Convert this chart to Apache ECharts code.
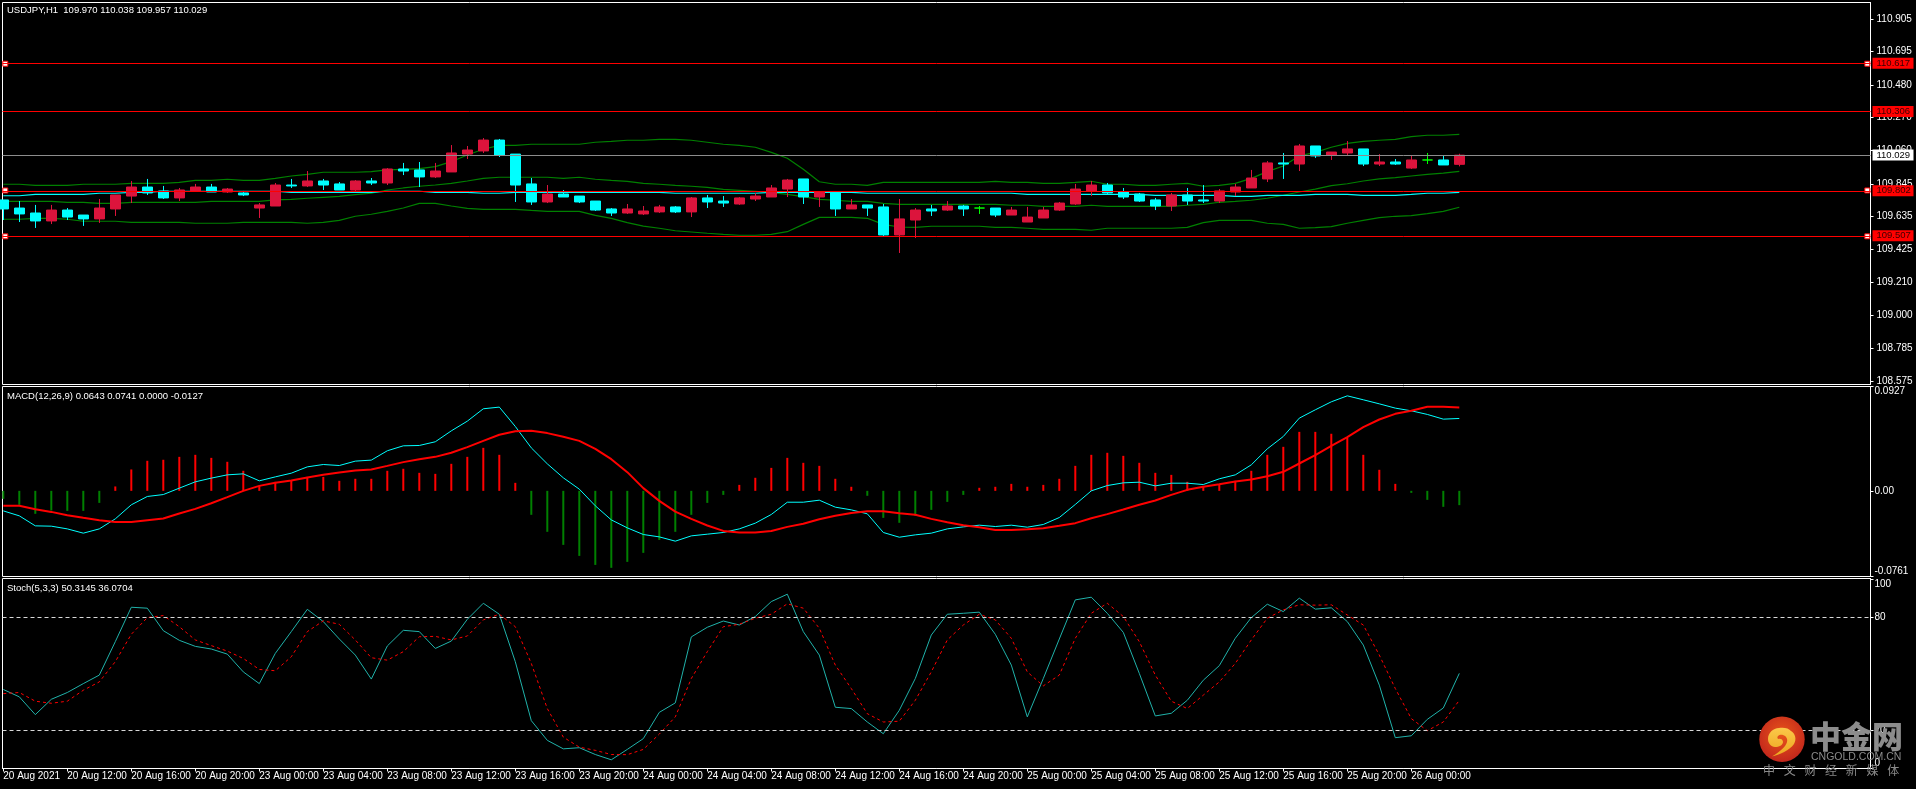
<!DOCTYPE html>
<html>
<head>
<meta charset="utf-8">
<title>USDJPY H1</title>
<style>html,body{margin:0;padding:0;background:#000;overflow:hidden}#chart{width:1916px;height:789px}</style>
<script src="https://cdn.jsdelivr.net/npm/echarts@6/dist/echarts.min.js"></script>
</head>
<body>
<div id="chart"></div>
<script>
// USDJPY hourly candles, one row of ten bars per line
const opens = [109.741,109.689,109.657,109.606,109.676,109.644,109.619,109.683,109.766,109.824,
109.799,109.754,109.799,109.824,109.792,109.786,109.689,109.702,109.837,109.831,
109.863,109.844,109.805,109.863,109.850,109.940,109.934,109.889,109.921,110.036,
110.056,110.126,110.036,109.844,109.728,109.779,109.766,109.734,109.683,109.657,
109.651,109.664,109.696,109.664,109.754,109.734,109.715,109.747,109.760,109.811,
109.876,109.760,109.792,109.683,109.709,109.696,109.516,109.612,109.683,109.676,
109.702,109.689,109.689,109.644,109.599,109.625,109.676,109.715,109.799,109.837,
109.792,109.779,109.741,109.702,109.773,109.741,109.734,109.792,109.818,109.876,
109.979,109.972,110.088,110.030,110.043,110.069,109.972,109.985,109.946,109.998,
109.998,109.970];
const closes = [109.683,109.651,109.606,109.676,109.631,109.619,109.689,109.773,109.824,109.786,
109.754,109.805,109.824,109.792,109.811,109.773,109.709,109.837,109.831,109.863,
109.837,109.805,109.863,109.850,109.940,109.927,109.889,109.927,110.043,110.062,
110.126,110.030,109.837,109.728,109.779,109.760,109.728,109.676,109.657,109.683,
109.670,109.696,109.664,109.754,109.728,109.721,109.754,109.766,109.818,109.869,
109.760,109.792,109.683,109.709,109.689,109.516,109.619,109.676,109.670,109.702,
109.683,109.689,109.644,109.676,109.631,109.676,109.721,109.811,109.837,109.786,
109.760,109.734,109.702,109.773,109.734,109.734,109.799,109.824,109.882,109.979,
109.972,110.088,110.024,110.049,110.069,109.972,109.985,109.972,109.998,109.998,
109.966,110.029];
const lows = [109.612,109.599,109.561,109.586,109.612,109.574,109.593,109.638,109.721,109.773,
109.747,109.734,109.799,109.792,109.786,109.766,109.625,109.702,109.818,109.824,
109.805,109.805,109.792,109.837,109.837,109.901,109.824,109.882,109.921,110.004,
110.043,110.017,109.728,109.709,109.721,109.760,109.721,109.670,109.638,109.651,
109.644,109.657,109.657,109.631,109.689,109.696,109.709,109.734,109.760,109.760,
109.715,109.696,109.638,109.683,109.638,109.503,109.400,109.496,109.638,109.670,
109.638,109.651,109.631,109.644,109.599,109.625,109.670,109.709,109.766,109.779,
109.747,109.728,109.676,109.670,109.709,109.721,109.721,109.766,109.818,109.856,
109.876,109.927,110.011,109.998,110.030,109.959,109.959,109.966,109.940,109.972,
109.966,109.957];
const highs = [109.741,109.734,109.709,109.709,109.689,109.644,109.747,109.773,109.863,109.876,
109.831,109.818,109.844,109.844,109.818,109.799,109.721,109.850,109.876,109.927,
109.876,109.856,109.869,109.882,109.946,109.979,109.985,109.979,110.094,110.088,
110.139,110.133,110.036,109.882,109.837,109.805,109.766,109.734,109.689,109.715,
109.702,109.709,109.702,109.760,109.773,109.766,109.760,109.786,109.837,109.876,
109.876,109.792,109.792,109.747,109.709,109.715,109.747,109.689,109.709,109.734,
109.709,109.702,109.689,109.696,109.696,109.696,109.728,109.844,109.863,109.850,
109.818,109.786,109.754,109.786,109.818,109.837,109.811,109.844,109.934,109.991,
110.043,110.101,110.088,110.049,110.120,110.069,110.036,110.004,110.024,110.043,
110.024,110.038];

// Bollinger bands and the slow moving average
const bbUpper = [109.842,109.842,109.835,109.835,109.835,109.842,109.842,109.842,109.848,109.848,
109.848,109.854,109.867,109.867,109.874,109.867,109.867,109.880,109.895,109.906,
109.919,109.919,109.919,109.923,109.934,109.938,109.942,109.955,109.987,110.030,
110.067,110.092,110.092,110.099,110.099,110.099,110.099,110.112,110.118,110.125,
110.125,110.131,110.131,110.125,110.112,110.099,110.092,110.080,110.047,110.009,
109.938,109.858,109.842,109.842,109.835,109.854,109.854,109.854,109.854,109.854,
109.854,109.854,109.861,109.854,109.854,109.848,109.848,109.854,109.861,109.842,
109.842,109.835,109.835,109.842,109.848,109.829,109.835,109.848,109.880,109.923,
109.959,110.024,110.047,110.080,110.105,110.118,110.125,110.131,110.148,110.157,
110.157,110.163];
const bbMiddle = [109.732,109.732,109.732,109.732,109.726,109.726,109.719,109.719,109.726,109.726,
109.726,109.726,109.726,109.732,109.732,109.732,109.732,109.741,109.745,109.752,
109.758,109.764,109.775,109.784,109.805,109.818,109.829,109.837,109.848,109.863,
109.880,109.887,109.887,109.887,109.887,109.880,109.887,109.874,109.867,109.861,
109.848,109.842,109.835,109.829,109.822,109.809,109.803,109.797,109.788,109.777,
109.762,109.745,109.739,109.732,109.732,109.719,109.713,109.713,109.713,109.713,
109.713,109.713,109.713,109.707,109.707,109.700,109.700,109.700,109.707,109.700,
109.700,109.700,109.700,109.700,109.707,109.713,109.726,109.732,109.739,109.752,
109.771,109.792,109.811,109.833,109.845,109.863,109.876,109.884,109.895,109.906,
109.914,109.925];
const bbLower = [109.617,109.617,109.623,109.623,109.617,109.604,109.604,109.604,109.597,109.597,
109.597,109.597,109.591,109.591,109.591,109.597,109.597,109.597,109.597,109.591,
109.597,109.610,109.636,109.649,109.668,109.689,109.719,109.719,109.702,109.687,
109.681,109.681,109.681,109.674,109.668,109.668,109.668,109.642,109.623,109.595,
109.573,109.559,109.543,109.535,109.527,109.520,109.514,109.514,109.520,109.537,
109.584,109.629,109.629,109.629,109.623,109.584,109.567,109.565,109.572,109.572,
109.572,109.572,109.565,109.565,109.559,109.552,109.552,109.552,109.546,109.559,
109.559,109.559,109.559,109.559,109.565,109.595,109.610,109.610,109.610,109.591,
109.584,109.559,109.563,109.569,109.591,109.610,109.627,109.636,109.640,109.653,
109.668,109.694];
const slowMA = [109.768,109.768,109.777,109.777,109.777,109.777,109.784,109.784,109.790,109.790,
109.797,109.797,109.797,109.797,109.797,109.797,109.797,109.797,109.790,109.790,
109.790,109.790,109.790,109.790,109.797,109.797,109.797,109.790,109.790,109.790,
109.784,109.784,109.790,109.790,109.790,109.790,109.790,109.790,109.790,109.790,
109.790,109.790,109.784,109.784,109.784,109.784,109.784,109.784,109.790,109.790,
109.790,109.790,109.790,109.790,109.784,109.784,109.784,109.784,109.784,109.784,
109.784,109.784,109.784,109.784,109.777,109.777,109.777,109.777,109.777,109.777,
109.777,109.777,109.771,109.771,109.771,109.771,109.771,109.764,109.764,109.771,
109.771,109.771,109.777,109.777,109.777,109.771,109.771,109.771,109.777,109.784,
109.784,109.790];

// MACD(12,26,9)
const macdMain = [-0.0178,-0.0222,-0.0311,-0.0314,-0.0338,-0.0376,-0.0338,-0.0249,-0.0124,-0.0050,
-0.0033,0.0024,0.0080,0.0113,0.0142,0.0151,0.0089,0.0124,0.0157,0.0213,
0.0234,0.0225,0.0264,0.0273,0.0356,0.0400,0.0403,0.0436,0.0533,0.0619,
0.0729,0.0744,0.0572,0.0382,0.0240,0.0116,0.0015,-0.0133,-0.0258,-0.0329,
-0.0388,-0.0409,-0.0447,-0.0400,-0.0385,-0.0370,-0.0338,-0.0287,-0.0210,-0.0101,
-0.0101,-0.0083,-0.0145,-0.0169,-0.0204,-0.0370,-0.0412,-0.0391,-0.0376,-0.0338,
-0.0320,-0.0305,-0.0317,-0.0305,-0.0323,-0.0299,-0.0237,-0.0121,0.0000,0.0047,
0.0071,0.0077,0.0044,0.0068,0.0068,0.0056,0.0107,0.0142,0.0231,0.0373,
0.0483,0.0646,0.0720,0.0791,0.0844,0.0809,0.0773,0.0735,0.0711,0.0679,
0.0637,0.0643];
const macdSignal = [-0.0133,-0.0133,-0.0163,-0.0187,-0.0216,-0.0240,-0.0261,-0.0276,-0.0276,-0.0261,
-0.0246,-0.0201,-0.0160,-0.0110,-0.0056,0.0000,0.0044,0.0071,0.0092,0.0119,
0.0142,0.0163,0.0181,0.0190,0.0222,0.0255,0.0281,0.0302,0.0338,0.0388,
0.0444,0.0498,0.0530,0.0533,0.0513,0.0480,0.0444,0.0373,0.0281,0.0166,
0.0024,-0.0089,-0.0184,-0.0249,-0.0308,-0.0356,-0.0370,-0.0370,-0.0356,-0.0320,
-0.0293,-0.0252,-0.0222,-0.0196,-0.0181,-0.0181,-0.0199,-0.0213,-0.0249,-0.0279,
-0.0305,-0.0323,-0.0347,-0.0347,-0.0341,-0.0332,-0.0311,-0.0287,-0.0243,-0.0207,
-0.0166,-0.0124,-0.0086,-0.0036,0.0009,0.0036,0.0059,0.0083,0.0101,0.0130,
0.0169,0.0243,0.0317,0.0400,0.0477,0.0566,0.0634,0.0684,0.0711,0.0747,
0.0747,0.0741];
const macdHist = [-0.0071,-0.0124,-0.0204,-0.0175,-0.0178,-0.0178,-0.0107,0.0039,0.0190,0.0267,
0.0276,0.0302,0.0320,0.0293,0.0258,0.0178,0.0044,0.0080,0.0089,0.0124,
0.0124,0.0089,0.0107,0.0107,0.0178,0.0196,0.0160,0.0151,0.0240,0.0302,
0.0382,0.0320,0.0071,-0.0213,-0.0364,-0.0480,-0.0578,-0.0658,-0.0684,-0.0631,
-0.0551,-0.0436,-0.0364,-0.0213,-0.0107,-0.0036,0.0053,0.0116,0.0204,0.0293,
0.0249,0.0222,0.0107,0.0036,-0.0044,-0.0240,-0.0284,-0.0222,-0.0169,-0.0098,
-0.0036,0.0027,0.0036,0.0062,0.0036,0.0053,0.0107,0.0222,0.0320,0.0338,
0.0311,0.0249,0.0160,0.0142,0.0080,0.0044,0.0053,0.0089,0.0178,0.0320,
0.0391,0.0524,0.0524,0.0507,0.0471,0.0320,0.0187,0.0062,-0.0018,-0.0080,
-0.0142,-0.0127];

// Stochastic(5,3,3)
const stochMain = [41.8,37.9,28.5,36.6,40.2,44.9,49.4,67.1,85.3,84.8,
72.9,67.8,64.6,63.2,60.5,51.1,44.9,60.9,72.4,84.2,
77.7,68.5,60.0,47.3,64.8,73.1,72.4,63.5,67.4,78.9,
87.4,81.6,56.5,25.3,14.9,10.4,11.0,7.4,4.6,10.1,
15.8,29.7,34.7,69.6,74.7,78.0,75.9,80.4,88.3,92.2,
72.4,60.0,32.4,31.7,24.6,18.4,30.8,47.6,70.6,81.6,
82.1,82.7,71.0,54.7,27.3,47.6,68.5,89.2,90.6,82.1,
72.0,50.3,27.8,29.2,36.1,46.7,54.4,68.9,79.8,86.9,
83.0,90.1,84.3,85.0,77.7,65.3,44.1,16.3,17.3,26.0,
32.0,50.3145];
const stochSignal = [39.6,40.2,35.6,34.5,35.6,41.4,45.8,56.5,71.0,79.8,
80.9,75.0,68.0,65.0,62.1,58.2,52.4,51.7,59.1,72.4,
78.1,76.3,68.0,58.6,57.3,61.8,69.7,69.9,68.0,70.1,
78.6,81.6,75.0,55.6,31.7,16.6,11.3,9.6,7.4,7.3,
10.1,18.2,27.3,47.6,61.8,75.0,76.3,79.5,81.6,87.1,
84.8,74.2,54.7,42.3,29.0,24.6,25.0,36.1,51.1,68.0,
75.9,81.6,78.6,68.9,51.1,43.7,49.4,68.9,82.1,87.4,
80.4,67.1,49.4,35.6,31.7,38.8,45.8,55.6,68.0,79.5,
83.9,86.6,86.4,86.6,81.2,75.9,60.0,42.3,26.4,20.0,
24.6,36.0704];

// Axis ticks and labels
const timeTickIndex = [0,4,8,12,16,20,24,28,32,36,40,44,48,52,56,60,64,68,72,76,80,84,88];
const timeLabels = ['20 Aug 2021','20 Aug 12:00','20 Aug 16:00','20 Aug 20:00','23 Aug 00:00','23 Aug 04:00',
'23 Aug 08:00','23 Aug 12:00','23 Aug 16:00','23 Aug 20:00','24 Aug 00:00','24 Aug 04:00','24 Aug 08:00',
'24 Aug 12:00','24 Aug 16:00','24 Aug 20:00','25 Aug 00:00','25 Aug 04:00','25 Aug 08:00','25 Aug 12:00',
'25 Aug 16:00','25 Aug 20:00','26 Aug 00:00'];
const priceTicks = [108.575,108.785,109.0,109.21,109.425,109.635,109.845,110.06,110.27,110.48,110.695,110.905];
const macdTicks = [-0.0761,0,0.0927];
const stochTicks = [0,20,80,100];
const stochLevels = [80,20];

// Horizontal levels on the price pane and the objects anchored on them
const redLevels = [110.617,110.306,109.802,109.507];
const anchoredLevels = [110.617,109.802,109.507];
const anchorBars = [0.125,116.5];
const bidPrice = 110.029;

const priceCaption = 'USDJPY,H1  109.970 110.038 109.957 110.029';
const macdCaption = 'MACD(12,26,9) 0.0643 0.0741 0.0000 -0.0127';
const stochCaption = 'Stoch(5,3,3) 50.3145 36.0704';
const brandName = ['中','金','网'];
const brandDomain = 'CNGOLD.COM.CN';
const brandSlogan = ['中','文','财','经','新','媒','体'];

const uiFont = '"Liberation Sans",Arial,sans-serif';
const AXIS_SIZE = 10;
const CAPTION_SIZE = 9.5;
const barRange = { min: -0.05, max: 116.7 };
const indexed = arr => arr.map((v, i) => [i, v]);
const CRIMSON = '#dc143c', AQUA = '#00ffff', BAND = '#008000';

const candles = opens.map((o, i) => [i, o, closes[i], lows[i], highs[i]]);

function lineSeries(name, data, grid, color, width, extra) {
  return Object.assign({
    name, type: 'line', data: indexed(data), xAxisIndex: grid, yAxisIndex: grid,
    showSymbol: false, symbol: 'none', silent: true, animation: false, z: 2,
    lineStyle: { color, width }
  }, extra || {});
}

function levelLine(value, lineColor, boxColor, textColor) {
  return {
    yAxis: value,
    lineStyle: { color: lineColor, width: 1, type: 'solid' },
    label: {
      show: true, position: 'end', distance: 2, formatter: value.toFixed(3),
      backgroundColor: boxColor, color: textColor, fontFamily: uiFont, fontSize: CAPTION_SIZE,
      lineHeight: 11, padding: [0, 3, 0, 4], width: 34, align: 'left'
    }
  };
}

function yAxisFor(grid, min, max, ticks, margin, formatter, insetEnds) {
  const label = {
    show: true, customValues: ticks, margin, color: '#fff', fontFamily: uiFont, fontSize: AXIS_SIZE,
    formatter, hideOverlap: false, showMinLabel: true, showMaxLabel: true
  };
  if (insetEnds) {
    label.verticalAlignMinLabel = 'bottom';
    label.verticalAlignMaxLabel = 'top';
  }
  return {
    type: 'value', gridIndex: grid, position: 'right', min, max, scale: true,
    axisLine: { show: true, onZero: false, lineStyle: { color: '#fff', width: 1 } },
    axisTick: { show: true, length: 3, inside: false, customValues: ticks, lineStyle: { color: '#fff' } },
    splitLine: { show: false },
    axisLabel: label
  };
}

function xAxisFor(grid, withLabels) {
  return {
    type: 'value', gridIndex: grid, min: barRange.min, max: barRange.max,
    axisLine: { show: withLabels, onZero: false, lineStyle: { color: '#fff' } },
    splitLine: { show: false },
    axisTick: { show: withLabels, length: 3, customValues: timeTickIndex, lineStyle: { color: '#fff' } },
    axisLabel: {
      show: withLabels, customValues: timeTickIndex, color: '#fff', fontFamily: uiFont, fontSize: AXIS_SIZE,
      margin: 3, align: 'left', hideOverlap: false, showMinLabel: true, showMaxLabel: true,
      formatter: v => timeLabels[timeTickIndex.indexOf(v)] || ''
    }
  };
}

// Logo swirl outline, relative to the centre of the badge
echarts.graphic.registerShape('brandSwirl', echarts.graphic.extendPath(
  'M-10,17.5 C-3,16 8,11 12,5 C15,0 13,-6 9,-8 C7,-11 1,-12 -3,-11 C-9,-11 -14,-6 -14,0 C-14,4 -11,8 -7,8 C-3,8 1,6 1,3 C1,0 -2,-1 -4,0 C-6,-3 -2,-5 1,-4 C4,-3 6,0 5,3 C4,7 -1,12 -10,17.5 Z', {}));

const captionFont = CAPTION_SIZE + 'px ' + uiFont;
const caption = (text, y) => ({
  type: 'text', x: 7, y, silent: true, z: 20,
  style: { text, fill: '#fff', font: captionFont, verticalAlign: 'middle' }
});

const graphic = [
  caption(priceCaption, 10.5),
  caption(macdCaption, 396),
  caption(stochCaption, 588),
  { type: 'circle', silent: true, z: 30, shape: { cx: 1782, cy: 739.3, r: 22.7 },
    style: { fill: { type: 'radial', x: 0.5, y: 0.4, r: 0.6, global: false, colorStops: [{ offset: 0, color: '#e8551a' }, { offset: 1, color: '#c2261c' }] } } },
  { type: 'brandSwirl', silent: true, z: 31, x: 1782, y: 739, shape: {},
    style: { fill: { type: 'linear', x: 0, y: 0, x2: 0, y2: 1, colorStops: [{ offset: 0, color: '#fbc94a' }, { offset: 1, color: '#eda51f' }] } } }
];
brandName.forEach((ch, i) => graphic.push({
  type: 'text', silent: true, z: 31, x: 1810 + i * 31, y: 736,
  style: { text: ch, fill: '#8c8c8c', font: '900 31px "Noto Sans CJK SC"', verticalAlign: 'middle' }
}));
graphic.push({ type: 'text', silent: true, z: 31, x: 1811, y: 757.5,
  style: { text: brandDomain, fill: '#8a8a8a', font: '10.5px "Liberation Sans",sans-serif', verticalAlign: 'middle' } });
brandSlogan.forEach((ch, i) => graphic.push({
  type: 'text', silent: true, z: 31, x: 1763 + i * 20.7, y: 770.5,
  style: { text: ch, fill: '#8a8a8a', font: '12px "Noto Sans CJK SC"', verticalAlign: 'middle' }
}));

const anchors = [];
anchoredLevels.forEach(p => anchorBars.forEach(b => anchors.push([b, p])));

const option = {
  backgroundColor: '#000',
  animation: false,
  graphic,
  grid: [
    { left: 2.5, width: 1868, top: 2.5, height: 382, show: true, borderColor: '#fff', borderWidth: 1, backgroundColor: '#000' },
    { left: 2.5, width: 1868, top: 386.5, height: 190, show: true, borderColor: '#fff', borderWidth: 1, backgroundColor: '#000' },
    { left: 2.5, width: 1868, top: 578.5, height: 190, show: true, borderColor: '#fff', borderWidth: 1, backgroundColor: '#000' }
  ],
  xAxis: [xAxisFor(0, false), xAxisFor(1, false), xAxisFor(2, true)],
  yAxis: [
    yAxisFor(0, 108.5543, 111.0106, priceTicks, 6, v => v.toFixed(3), false),
    yAxisFor(1, -0.0761, 0.0927, macdTicks, 4, v => v === 0 ? '0.00' : v.toFixed(4), true),
    yAxisFor(2, 0, 100.5, stochTicks, 4, v => String(v), true)
  ],
  series: [
    {
      name: 'levels', type: 'line', data: [], xAxisIndex: 0, yAxisIndex: 0, z: 1, silent: true,
      markLine: {
        silent: true, symbol: 'none', animation: false,
        data: redLevels.map(v => levelLine(v, '#ff0000', '#ff0000', '#3a0000'))
          .concat([levelLine(bidPrice, '#8c8c8c', '#ffffff', '#000000')])
      }
    },
    lineSeries('BB upper', bbUpper, 0, BAND, 1.2),
    lineSeries('BB middle', bbMiddle, 0, BAND, 1.2),
    lineSeries('BB lower', bbLower, 0, BAND, 1.2),
    lineSeries('MA', slowMA, 0, AQUA, 1.2),
    {
      name: 'USDJPY', type: 'candlestick', data: candles, xAxisIndex: 0, yAxisIndex: 0, z: 3,
      barWidth: 11, silent: true, animation: false,
      itemStyle: { color: CRIMSON, color0: AQUA, borderColor: CRIMSON, borderColor0: AQUA, borderColorDoji: '#00ff00', borderWidth: 1 }
    },
    {
      name: 'anchors', type: 'scatter', data: anchors, xAxisIndex: 0, yAxisIndex: 0, z: 4, clip: false, silent: true,
      symbol: 'rect', symbolSize: 5, itemStyle: { color: '#fff', borderColor: '#ff0000', borderWidth: 1, opacity: 1 }
    },
    {
      name: 'MACD hist', type: 'bar', data: indexed(macdHist), xAxisIndex: 1, yAxisIndex: 1, z: 2, barWidth: 2, silent: true,
      itemStyle: { color: p => p.value[1] >= 0 ? '#ff0000' : '#008000' }
    },
    lineSeries('MACD', macdMain, 1, AQUA, 1, { z: 3 }),
    lineSeries('Signal', macdSignal, 1, '#ff0000', 2, { z: 4 }),
    lineSeries('%K', stochMain, 2, '#20b2aa', 1, {
      z: 3,
      markLine: {
        silent: true, symbol: 'none', animation: false, label: { show: false },
        lineStyle: { color: '#d8d8d8', type: [4, 3], width: 1 },
        data: stochLevels.map(v => ({ yAxis: v }))
      }
    }),
    lineSeries('%D', stochSignal, 2, '#ff0000', 1, { z: 4, lineStyle: { color: '#ff0000', width: 1, type: [3, 3] } })
  ]
};

const chart = echarts.init(document.getElementById('chart'), null, { renderer: 'canvas', width: 1916, height: 789 });
chart.setOption(option);
</script>
</body>
</html>
